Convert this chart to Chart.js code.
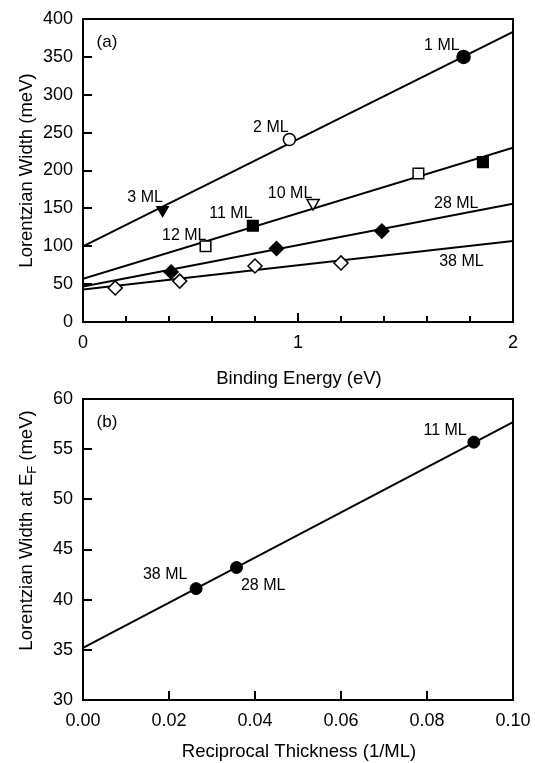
<!DOCTYPE html>
<html><head><meta charset="utf-8">
<script src="https://cdn.jsdelivr.net/npm/chart.js@4/dist/chart.umd.min.js"></script>
<style>html,body{margin:0;padding:0;background:#fff;overflow:hidden;width:535px;height:763px}</style>
</head><body>
<canvas id="ca" width="535" height="395" style="position:absolute;left:0;top:0"></canvas>
<canvas id="cb" width="535" height="383" style="position:absolute;left:0;top:380px"></canvas>
<script>
// ---------- Panel (a) data ----------
const ml1 = [[1.77, 350]];
const ml2 = [[0.96, 241]];
const ml3 = [[0.37, 148]];
const ml10 = [[1.07, 157]];
const ml11 = [[0.79, 127], [1.86, 211]];
const ml12 = [[0.57, 100], [1.56, 196]];
const ml28 = [[0.41, 66], [0.90, 97], [1.39, 120]];
const ml38 = [[0.15, 45], [0.45, 54], [0.80, 74], [1.20, 78]];
const fitAX = [0, 2];
const fitA1 = [100, 383];
const fitA2 = [57, 230];
const fitA3 = [47, 156];
const fitA4 = [43, 107];
const labelsA = [['1 ML', 1.669, 367], ['2 ML', 0.874, 258.7], ['3 ML', 0.289, 166], ['11 ML', 0.688, 144.2],
  ['12 ML', 0.471, 116.2], ['10 ML', 0.963, 171.6], ['28 ML', 1.736, 157.4], ['38 ML', 1.760, 80.8]];
// ---------- Panel (b) data ----------
const thickness = ['38 ML', '28 ML', '11 ML'];
const reciprocal = [0.0263, 0.0357, 0.0909];
const widthEF = [41.1, 43.2, 55.7];
const fitBX = [0, 0.1];
const fitB = [35.2, 57.7];
const labelsB = [['11 ML', 0.0842, 56.96], ['38 ML', 0.0191, 42.59], ['28 ML', 0.0419, 41.5]];

const FONT = "'Liberation Sans', Arial, Helvetica, sans-serif";
const pts = a => a.map(p => ({x: p[0], y: p[1]}));
const line = (xs, ys) => xs.map((x, i) => ({x, y: ys[i]}));

function markerDS(data, style, filled, radius, rot) {
  return {data: pts(data), showLine: false, pointStyle: style, pointRadius: radius, pointHoverRadius: radius,
    pointRotation: rot || 0, pointBackgroundColor: filled ? '#000' : '#fff', pointBorderColor: '#000',
    pointBorderWidth: 1.5};
}
function lineDS(xs, ys) {
  return {data: line(xs, ys), showLine: true, pointRadius: 0, borderColor: '#000', borderWidth: 2, fill: false};
}

const decor = {
  id: 'decor',
  afterDraw(chart, args, o) {
    const {ctx, chartArea: a, scales: {x, y}} = chart;
    ctx.save();
    ctx.strokeStyle = '#000'; ctx.fillStyle = '#000'; ctx.lineWidth = 2;
    ctx.beginPath();
    x.ticks.forEach(t => {
      const px = Math.round(x.getPixelForValue(t.value));
      const len = o.xLen(t.value);
      ctx.moveTo(px, a.bottom); ctx.lineTo(px, a.bottom - len);
    });
    y.ticks.forEach(t => {
      const py = Math.round(y.getPixelForValue(t.value));
      ctx.moveTo(a.left, py); ctx.lineTo(a.left + o.yLen, py);
    });
    ctx.stroke();
    ctx.strokeRect(a.left, a.top, a.right - a.left, a.bottom - a.top);
    // point labels
    ctx.font = '16px ' + FONT; ctx.textAlign = 'center'; ctx.textBaseline = 'alphabetic';
    o.labels.forEach(l => {
      ctx.fillText(l[0], x.getPixelForValue(l[1]), y.getPixelForValue(l[2]) + 5.7);
    });
    // panel letter
    ctx.font = '17px ' + FONT;
    ctx.fillText(o.panel, a.left + 24, a.top + 28);
    // x title
    ctx.font = '18.5px ' + FONT;
    ctx.fillText(o.xTitle, (a.left + a.right) / 2 + 1, o.xTitleY);
    // y title (rotated)
    ctx.translate(32, (a.top + a.bottom) / 2 + o.yTitleShift);
    ctx.rotate(-Math.PI / 2);
    ctx.textAlign = 'left';
    const parts = o.yTitle;
    let total = 0;
    parts.forEach(p => { ctx.font = (p[1] ? '13px ' : '18.5px ') + FONT; total += ctx.measureText(p[0]).width; });
    let cx = -total / 2;
    parts.forEach(p => {
      ctx.font = (p[1] ? '13px ' : '18.5px ') + FONT;
      ctx.fillText(p[0], cx, p[1] ? 4 : 0);
      cx += ctx.measureText(p[0]).width;
    });
    ctx.restore();
  }
};

function baseOpts(xMin, xMax, xStep, xCb, yMin, yMax, yStep, xH, decorOpts) {
  return {
    responsive: false, animation: false,
    layout: {padding: {top: 19, right: 22, left: 0, bottom: 0}},
    plugins: {legend: {display: false}, tooltip: {enabled: false}, decor: decorOpts},
    scales: {
      x: {type: 'linear', min: xMin, max: xMax, grid: {display: false, drawTicks: false}, border: {display: false},
        ticks: {stepSize: xStep, autoSkip: false, maxRotation: 0, padding: 10, color: '#000', font: {size: 18, family: FONT}, callback: xCb},
        afterFit: s => { s.height = xH; s.paddingLeft = 0; s.paddingRight = 0; }},
      y: {type: 'linear', min: yMin, max: yMax, grid: {display: false, drawTicks: false}, border: {display: false},
        ticks: {stepSize: yStep, autoSkip: false, padding: 10, color: '#000', font: {size: 18, family: FONT}},
        afterFit: s => { s.width = 83; s.paddingTop = 0; s.paddingBottom = 0; }}
    }
  };
}

new Chart(document.getElementById('ca'), {
  type: 'scatter',
  data: {datasets: [
    markerDS(ml1, 'circle', true, 6.5),
    markerDS(ml2, 'circle', false, 6),
    markerDS(ml3, 'triangle', true, 6.5, 180),
    markerDS(ml10, 'triangle', false, 7, 180),
    markerDS(ml11, 'rect', true, 7.5),
    markerDS(ml12, 'rect', false, 7.5),
    markerDS(ml28, 'rectRot', true, 7),
    markerDS(ml38, 'rectRot', false, 7),
    lineDS(fitAX, fitA1), lineDS(fitAX, fitA2), lineDS(fitAX, fitA3), lineDS(fitAX, fitA4)
  ]},
  options: baseOpts(0, 2, 0.2, v => Math.abs(v - Math.round(v)) < 1e-6 ? String(Math.round(v)) : '',
    0, 400, 50, 73, {
      xLen: v => Math.abs(v - Math.round(v)) < 1e-6 ? 9 : 6, yLen: 9, labels: labelsA, panel: '(a)',
      xTitle: 'Binding Energy (eV)', xTitleY: 384, yTitle: [['Lorentzian Width (meV)', false]], yTitleShift: 0
    }),
  plugins: [decor]
});

new Chart(document.getElementById('cb'), {
  type: 'scatter',
  data: {labels: thickness, datasets: [
    {data: reciprocal.map((x, i) => ({x, y: widthEF[i]})), showLine: false, pointStyle: 'circle', pointRadius: 6,
      pointBackgroundColor: '#000', pointBorderColor: '#000', pointBorderWidth: 1},
    lineDS(fitBX, fitB)
  ]},
  options: baseOpts(0, 0.1, 0.02, v => v.toFixed(2), 30, 60, 5, 63, {
    xLen: v => 9, yLen: 9, labels: labelsB, panel: '(b)',
    xTitle: 'Reciprocal Thickness (1/ML)', xTitleY: 377, yTitle: [['Lorentzian Width at E', false], ['F', true], [' (meV)', false]], yTitleShift: -19
  }),
  plugins: [decor]
});
</script>
</body></html>
